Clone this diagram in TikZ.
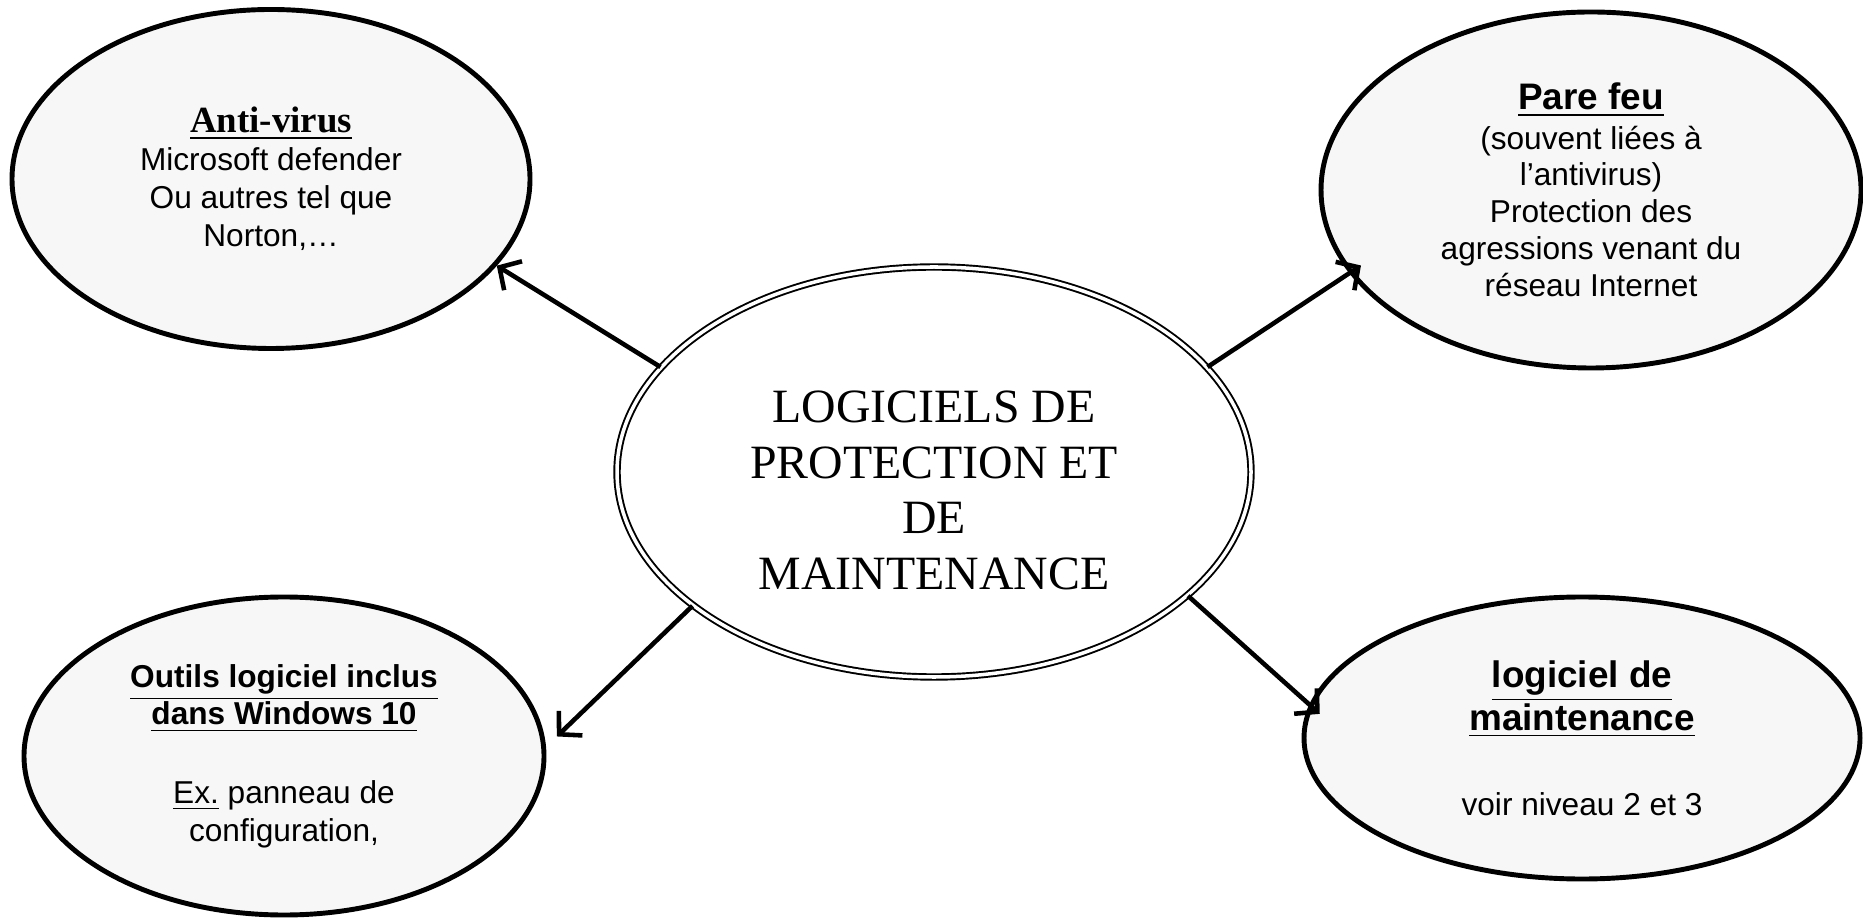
\documentclass[tikz,border=0pt]{standalone}
\usepackage{fontspec}
\setmainfont{Liberation Sans}
\newfontfamily\timesfont{Liberation Serif}
\usetikzlibrary{shapes,arrows.meta}

\begin{document}
\begin{tikzpicture}[
	bubble/.style={draw,shape=ellipse,line width=1.4pt,fill=black!3,inner sep=0pt,align=center,font=\fontsize{9}{10.8}\selectfont},
	central/.style={draw,shape=ellipse,double,line width=0.55pt,double distance=1pt,fill=white,inner sep=0pt,align=center,text height=67pt,font=\timesfont\fontsize{13.6}{15.8}\selectfont},
	link/.style={->,line width=1.3pt},
	>={Straight Barb[length=1.6mm,width=3.4mm]}
	]

		\useasboundingbox (0,0) rectangle (18.63,-9.19);

		\node (Logiciels) at (9.34,-4.72) [central,minimum width=6.34cm,minimum height=4.1cm]{LOGICIELS DE\\PROTECTION ET\\DE\\MAINTENANCE};

		\node (AntiVirus) at (2.71,-1.79) [bubble,minimum width=5.18cm,minimum height=3.39cm]{{\timesfont\bfseries\fontsize{10.5}{12}\selectfont\underline{Anti-virus}}\\Microsoft defender\\Ou autres tel que\\Norton,…};
		\node (PareFeu) at (15.91,-1.9) [bubble,minimum width=5.4cm,minimum height=3.56cm,font=\fontsize{9}{10.5}\selectfont]{{\bfseries\fontsize{10.5}{12}\selectfont\underline{Pare feu}}\\[0.7pt](souvent liées à\\l’antivirus)\\Protection des\\agressions venant du\\réseau Internet};

		\node (OutilsWindows) at (2.84,-7.56) [bubble,minimum width=5.2cm,minimum height=3.18cm]{{\bfseries\underline{Outils logiciel inclus}}\\{\bfseries\underline{dans Windows 10}}\\[11.5pt]\underline{Ex.} panneau de\\configuration,};
		\node (LogicielMaintenance) at (15.82,-7.38) [bubble,minimum width=5.56cm,minimum height=2.82cm]{{\bfseries\fontsize{10.5}{12}\selectfont\underline{logiciel de}}\\[-0.6pt]{\bfseries\fontsize{10.5}{12}\selectfont\underline{maintenance}}\\[13.5pt]voir niveau 2 et 3};

		\draw [link] (Logiciels.159) -- (AntiVirus.-21);
		\draw [link,shorten >=-0.14cm] (Logiciels.21) -- (PareFeu.-161);

		\draw [link,shorten >=0.15cm] (Logiciels.-151) -- (OutilsWindows.2.6);
		\draw [link,shorten >=-0.14cm] (Logiciels.-26) -- (LogicielMaintenance.173);
	\end{tikzpicture}
\end{document}
